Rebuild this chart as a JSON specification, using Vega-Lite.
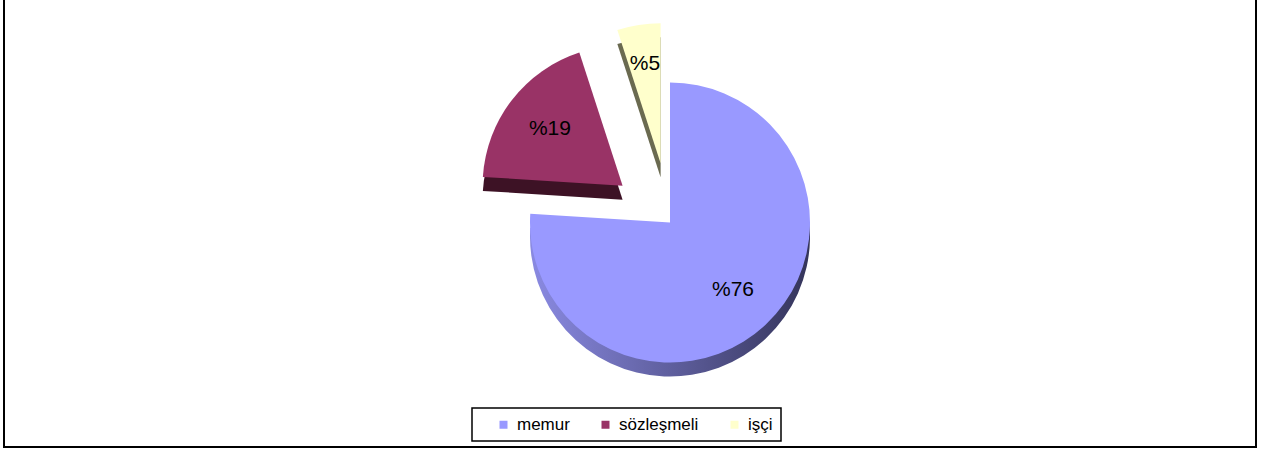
{
  "$schema": "https://vega.github.io/schema/vega-lite/v6.json",
  "autosize": {"type": "fit", "contains": "padding"},
  "width": 1266,
  "height": 452,
  "padding": {"left": 4, "top": -2, "right": 10, "bottom": 5},
  "background": "white",
  "config": {
    "view": {"stroke": "black", "strokeWidth": 2},
    "text": {"font": "Liberation Sans"},
    "legend": {"labelFont": "Liberation Sans", "strokeColor": "black", "strokeWidth": 1.5}
  },
  "data": {
    "values": [
      {"cat": "memur", "value": 76, "order": 1, "label": "%76"},
      {"cat": "sözleşmeli", "value": 19, "order": 2, "label": "%19"},
      {"cat": "işçi", "value": 5, "order": 3, "label": "%5"}
    ]
  },
  "transform": [
    {"stack": "value", "groupby": [], "sort": [{"field": "order", "order": "ascending"}], "as": ["v0", "v1"]}
  ],
  "layer": [
    {
      "mark": {"type": "rule", "opacity": 0},
      "encoding": {
        "x": {"field": "value", "type": "quantitative", "axis": null},
        "y": {"field": "value", "type": "quantitative", "axis": null}
      }
    },
    {
      "transform": [{"filter": "datum.cat === 'memur'"}],
      "mark": {"type": "arc", "radius": 140, "xOffset": 40, "yOffset": 14,
        "color": {"gradient": "linear", "x1": 0, "y1": 0, "x2": 1, "y2": 0,
          "stops": [{"offset": 0, "color": "#8A8AE2"}, {"offset": 1, "color": "#34345A"}]}},
      "encoding": {
        "theta": {"field": "v0", "type": "quantitative", "scale": {"domain": [0, 100]}},
        "theta2": {"field": "v1"}
      }
    },
    {
      "transform": [{"filter": "datum.cat === 'sözleşmeli'"}],
      "mark": {"type": "arc", "radius": 140, "xOffset": -7.4, "yOffset": -22.8, "color": "#3D1225"},
      "encoding": {
        "theta": {"field": "v0", "type": "quantitative", "scale": {"domain": [0, 100]}},
        "theta2": {"field": "v1"}
      }
    },
    {
      "transform": [{"filter": "datum.cat === 'işçi'"}],
      "mark": {"type": "arc", "radius": 140, "xOffset": 30.6, "yOffset": -45.3, "color": "#6A6A50"},
      "encoding": {
        "theta": {"field": "v0", "type": "quantitative", "scale": {"domain": [0, 100]}},
        "theta2": {"field": "v1"}
      }
    },
    {
      "transform": [{"filter": "datum.cat === 'memur'"}],
      "mark": {"type": "arc", "radius": 140, "xOffset": 40, "yOffset": 0},
      "encoding": {
        "theta": {"field": "v0", "type": "quantitative", "scale": {"domain": [0, 100]}},
        "theta2": {"field": "v1"},
        "color": {"field": "cat", "type": "nominal",
          "scale": {"domain": ["memur", "sözleşmeli", "işçi"], "range": ["#9999FF", "#993366", "#FFFFCC"]},
          "legend": {"title": null, "orient": "none", "legendX": 468, "legendY": 410, "direction": "horizontal",
            "padding": 8, "symbolType": "square", "symbolSize": 64, "symbolOffset": 15,
            "symbolStrokeWidth": 0, "labelFontSize": 17, "labelColor": "black", "columnPadding": 12, "labelOffset": 5}}
      }
    },
    {
      "transform": [{"filter": "datum.cat === 'sözleşmeli'"}],
      "mark": {"type": "arc", "radius": 140, "xOffset": -7.4, "yOffset": -36.8},
      "encoding": {
        "theta": {"field": "v0", "type": "quantitative", "scale": {"domain": [0, 100]}},
        "theta2": {"field": "v1"},
        "color": {"field": "cat", "type": "nominal"}
      }
    },
    {
      "transform": [{"filter": "datum.cat === 'işçi'"}],
      "mark": {"type": "arc", "radius": 140, "xOffset": 30.6, "yOffset": -59.3},
      "encoding": {
        "theta": {"field": "v0", "type": "quantitative", "scale": {"domain": [0, 100]}},
        "theta2": {"field": "v1"},
        "color": {"field": "cat", "type": "nominal"}
      }
    },
    {
      "mark": {"type": "text", "radius": 92, "xOffset": 40, "yOffset": 0, "fontSize": 21, "color": "black"},
      "encoding": {
        "theta": {"field": "value", "type": "quantitative", "stack": true, "scale": {"domain": [0, 100]}},
        "order": {"field": "order"},
        "text": {"field": "label"},
        "opacity": {"condition": {"test": "datum.cat === 'memur'", "value": 1}, "value": 0}
      }
    },
    {
      "mark": {"type": "text", "radius": 92, "xOffset": -7.4, "yOffset": -36.8, "fontSize": 21, "color": "black"},
      "encoding": {
        "theta": {"field": "value", "type": "quantitative", "stack": true, "scale": {"domain": [0, 100]}},
        "order": {"field": "order"},
        "text": {"field": "label"},
        "opacity": {"condition": {"test": "datum.cat === 'sözleşmeli'", "value": 1}, "value": 0}
      }
    },
    {
      "mark": {"type": "text", "radius": 100, "xOffset": 30.6, "yOffset": -59.3, "fontSize": 21, "color": "black"},
      "encoding": {
        "theta": {"field": "value", "type": "quantitative", "stack": true, "scale": {"domain": [0, 100]}},
        "order": {"field": "order"},
        "text": {"field": "label"},
        "opacity": {"condition": {"test": "datum.cat === 'işçi'", "value": 1}, "value": 0}
      }
    }
  ]
}
